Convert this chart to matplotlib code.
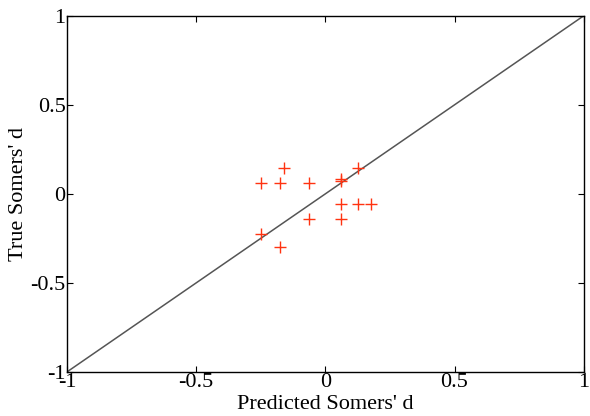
import matplotlib
matplotlib.use("Agg")
import matplotlib.pyplot as plt

plt.rcParams['font.family'] = ['Liberation Serif', 'DejaVu Serif']

# predicted vs true Somers' d
predicted = [-0.161, -0.25, -0.176, -0.063, 0.059, 0.059, 0.125, 0.059, 0.125, 0.177, -0.063, 0.059, -0.25, -0.176]
true_vals = [0.143, 0.059, 0.059, 0.059, 0.083, 0.071, 0.143, -0.056, -0.056, -0.056, -0.143, -0.143, -0.226, -0.296]
ticks = [-1, -0.5, 0, 0.5, 1]
tick_labels = ['-1', '-0.5', '0', '0.5', '1']

fig = plt.figure(figsize=(5.9, 4.16), dpi=100)
ax = fig.add_axes([0.1136, 0.106, 0.8757, 0.856])

ax.plot([-1, 1], [-1, 1], color='#555555', lw=1.1)
ax.plot(predicted, true_vals, linestyle='none', marker='+', color='#ff3311',
        markersize=9, markeredgewidth=1.0)

ax.set_xlim(-1, 1)
ax.set_ylim(-1, 1)
ax.set_xticks(ticks)
ax.set_xticklabels(tick_labels)
ax.set_yticks(ticks)
ax.set_yticklabels(tick_labels)
ax.tick_params(direction='in', top=True, right=True, length=4, width=0.8,
               labelsize=16, pad=1)
for s in ax.spines.values():
    s.set_linewidth(1.0)

ax.set_xlabel("Predicted Somers' d", fontsize=16, labelpad=2)
ax.set_ylabel("True Somers' d", fontsize=16, labelpad=2)

fig.savefig("out.png", dpi=100)
